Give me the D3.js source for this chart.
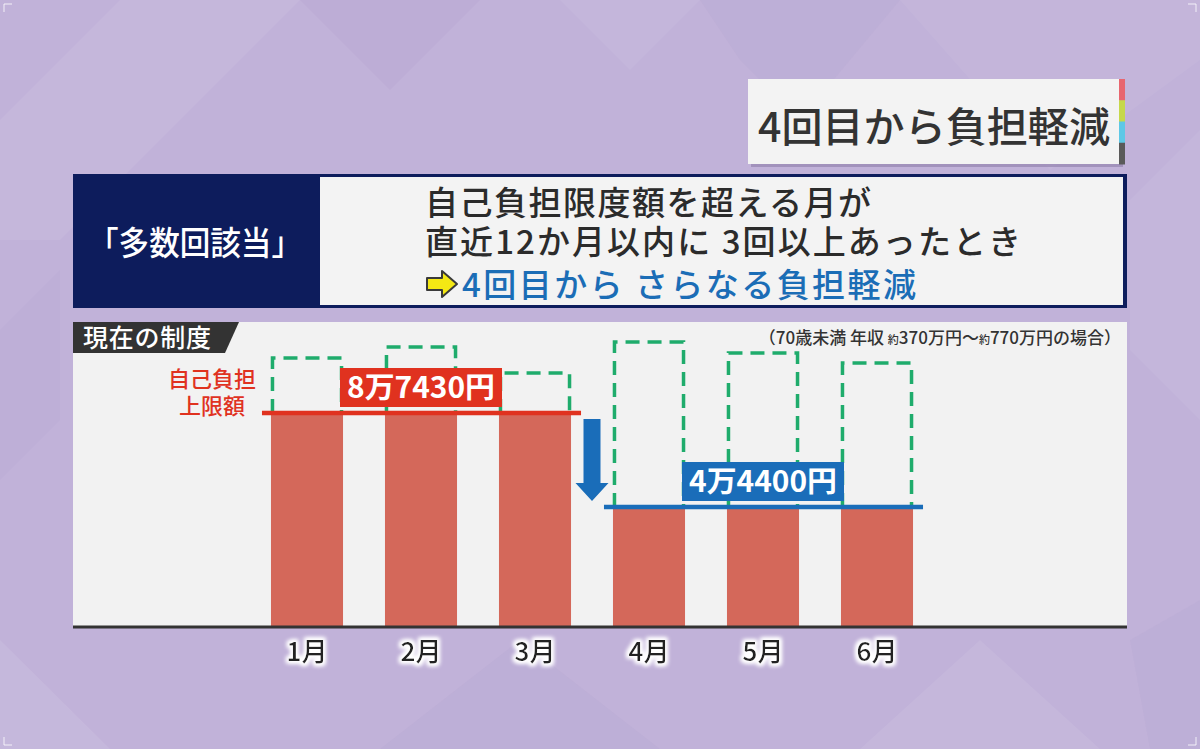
<!DOCTYPE html>
<html><head><meta charset="utf-8">
<script src="https://cdn.jsdelivr.net/npm/d3@7"></script>
<style>
html,body{margin:0;padding:0;background:#c1b2d9;}
svg{display:block;font-family:"Noto Sans CJK JP","Noto Sans",sans-serif;}
</style></head>
<body>
<svg id="c" width="1200" height="749"></svg>
<script>
// ---- data ----
const months = ["1月","2月","3月","4月","5月","6月"];
const capValues = [87430, 87430, 87430, 44400, 44400, 44400];   // 自己負担上限額
const totalValues = [112600, 117600, 105700, 119900, 114900, 110300]; // 医療費総額（破線）
const capGroups = [
  {months: ["1月","2月","3月"], value: 87430, label: "8万7430円", labelAt: "2月"},
  {months: ["4月","5月","6月"], value: 44400, label: "4万4400円", labelAt: "5月"}
];
const titleText = "4回目から負担軽減";
const headerLabel = "「多数回該当」";
const headerLines = ["自己負担限度額を超える月が", "直近12か月以内に 3回以上あったとき", "4回目から さらなる負担軽減"];
const tabText = "現在の制度";
const capLegend = ["自己負担", "上限額"];

const svg = d3.select("#c");
const W = 1200, H = 749;

// ---- background ----
svg.append("rect").attr("width", W).attr("height", H).attr("fill", "#c1b2d9");
const bgShapes = [
  {p: [[0,120],[120,0],[300,0],[60,240],[0,240]], c:"#ffffff", o:0.07},
  {p: [[300,0],[480,0],[390,90]], c:"#9f88c4", o:0.10},
  {p: [[560,0],[700,0],[630,70]], c:"#ffffff", o:0.06},
  {p: [[700,0],[900,0],[800,120],[740,60]], c:"#9f88c4", o:0.08},
  {p: [[900,0],[1200,0],[1200,60],[1050,170]], c:"#ffffff", o:0.05},
  {p: [[0,330],[60,270],[60,420],[0,480]], c:"#9f88c4", o:0.07},
  {p: [[1130,200],[1200,130],[1200,420],[1130,350]], c:"#ffffff", o:0.06},
  {p: [[0,640],[110,749],[0,749]], c:"#ffffff", o:0.08},
  {p: [[380,749],[520,640],[660,749]], c:"#9f88c4", o:0.08},
  {p: [[860,749],[980,640],[1100,749]], c:"#ffffff", o:0.07},
  {p: [[1130,640],[1200,600],[1200,749],[1150,749]], c:"#9f88c4", o:0.08}
];
svg.selectAll("polygon.bg").data(bgShapes).join("polygon").attr("class","bg")
  .attr("points", d => d.p.map(q => q.join(",")).join(" "))
  .attr("fill", d => d.c).attr("opacity", d => d.o);

// corner marks
[[4,4,1,1],[1196,4,-1,1],[4,745,1,-1],[1196,745,-1,-1]].forEach(([x,y,sx,sy]) => {
  svg.append("path").attr("d", `M${x},${y+8*sy} V${y} H${x+8*sx}`)
    .attr("fill","none").attr("stroke","#ffffff").attr("stroke-width",1).attr("opacity",0.8);
});

// ---- defs ----
const defs = svg.append("defs");
const glow = defs.append("filter").attr("id","glow").attr("x","-30%").attr("y","-30%").attr("width","160%").attr("height","160%");
glow.append("feMorphology").attr("in","SourceAlpha").attr("operator","dilate").attr("radius",1.5).attr("result","d");
glow.append("feGaussianBlur").attr("in","d").attr("stdDeviation",2).attr("result","b");
glow.append("feFlood").attr("flood-color","#ffffff").attr("result","f");
glow.append("feComposite").attr("in","f").attr("in2","b").attr("operator","in").attr("result","g");
const gm = glow.append("feMerge");
gm.append("feMergeNode").attr("in","g");
gm.append("feMergeNode").attr("in","g");
gm.append("feMergeNode").attr("in","SourceGraphic");

// ---- title box ----
svg.append("rect").attr("x",751).attr("y",82).attr("width",372).attr("height",85).attr("fill","#7d6b98").attr("opacity",0.45);
svg.append("rect").attr("x",748).attr("y",79).attr("width",372).attr("height",85).attr("fill","#f3f3f3");
const stripColors = ["#e8666f","#c6d84a","#5ec8e6","#5a5a5a"];
const stripY = d3.scaleBand().domain(d3.range(4)).range([79,164]);
svg.selectAll("rect.strip").data(stripColors).join("rect").attr("class","strip")
  .attr("x",1119).attr("width",6).attr("y",(d,i)=>stripY(i)).attr("height",stripY.bandwidth()+0.5).attr("fill",d=>d);
svg.append("text").attr("x",934).attr("y",142).attr("text-anchor","middle")
  .attr("font-size",41).attr("font-weight",500).attr("fill","#333")
  .attr("textLength",352).attr("lengthAdjust","spacingAndGlyphs").text(titleText);

// ---- header box ----
svg.append("rect").attr("x",73).attr("y",174).attr("width",1054).attr("height",134).attr("fill","#0d1c5c");
svg.append("rect").attr("x",320).attr("y",177).attr("width",803).attr("height",128).attr("fill","#f3f3f3");
svg.append("text").attr("x",195).attr("y",255).attr("text-anchor","middle")
  .attr("font-size",33).attr("font-weight",500).attr("fill","#ffffff")
  .attr("textLength",214).attr("lengthAdjust","spacingAndGlyphs").text(headerLabel);
svg.append("text").attr("x",425).attr("y",215).attr("font-size",33).attr("font-weight",500).attr("fill","#2b2b2b")
  .attr("textLength",446).attr("lengthAdjust","spacing").text(headerLines[0]);
svg.append("text").attr("x",425).attr("y",254).attr("font-size",33).attr("font-weight",500).attr("fill","#2b2b2b")
  .attr("textLength",596).attr("lengthAdjust","spacing").text(headerLines[1]);
// yellow arrow icon
svg.append("path").attr("d","M427,278 H442 V271 L457,284 L442,297 V290 H427 Z")
  .attr("fill","#f4e814").attr("stroke","#3a3a3a").attr("stroke-width",2).attr("stroke-linejoin","round");
svg.append("text").attr("x",462).attr("y",297).attr("font-size",33).attr("font-weight",500).attr("fill","#1b6db6")
  .attr("textLength",454).attr("lengthAdjust","spacing").text(headerLines[2]);

// ---- chart panel ----
const panel = {x0:73, x1:1127, y0:322, base:627};
svg.append("rect").attr("x",panel.x0).attr("y",panel.y0).attr("width",panel.x1-panel.x0).attr("height",panel.base-panel.y0).attr("fill","#f2f2f2");
svg.append("polygon").attr("points",`73,322 239,322 225,353 73,353`).attr("fill","#333333");
svg.append("text").attr("x",83).attr("y",347).attr("font-size",25).attr("font-weight",500).attr("fill","#ffffff")
  .attr("textLength",128).attr("lengthAdjust","spacing").text(tabText);

// note
const note = svg.append("text").attr("x",1121).attr("y",344).attr("text-anchor","end")
  .attr("font-size",17).attr("font-weight",500).attr("fill","#333");
note.append("tspan").text("（70歳未満 年収 ");
note.append("tspan").attr("font-size",11).text("約");
note.append("tspan").text("370万円～");
note.append("tspan").attr("font-size",11).text("約");
note.append("tspan").text("770万円の場合）");

// scales
const x = d3.scaleBand().domain(months).range([250, 934]).paddingInner(0.368).paddingOuter(0.184);
const y = d3.scaleLinear().domain([44400, 87430]).range([507, 413]);
const bw = x.bandwidth();

// bars
svg.selectAll("rect.bar").data(months).join("rect").attr("class","bar")
  .attr("x", d => x(d)).attr("width", bw)
  .attr("y", (d,i) => y(capValues[i])).attr("height", (d,i) => panel.base - y(capValues[i]))
  .attr("fill", "#d4685a");

// dashed total boxes
svg.selectAll("path.total").data(months).join("path").attr("class","total")
  .attr("d", (d,i) => `M${x(d)+1.5},${y(capValues[i])} V${y(totalValues[i])} H${x(d)+bw-1.5} V${y(capValues[i])}`)
  .attr("fill","none").attr("stroke","#1fac6c").attr("stroke-width",3.5).attr("stroke-dasharray","14 8");

// cap lines + labels
const capColors = ["#e0321f","#1a6db9"];
capGroups.forEach((g, gi) => {
  const xa = x(g.months[0]) - 9, xb = x(g.months[g.months.length-1]) + bw + 10;
  const ly = y(g.value);
  svg.append("line").attr("x1",xa).attr("x2",xb).attr("y1",ly).attr("y2",ly)
    .attr("stroke",capColors[gi]).attr("stroke-width",4.5);
  const cx = x(g.labelAt) + bw/2;
  svg.append("rect").attr("x",cx-81).attr("y",ly-45).attr("width",162).attr("height",39).attr("fill",capColors[gi]);
  svg.append("text").attr("x",cx).attr("y",ly-15).attr("text-anchor","middle")
    .attr("font-size",29).attr("font-weight",700).attr("fill","#ffffff")
    .attr("textLength",148).attr("lengthAdjust","spacingAndGlyphs").text(g.label);
});

// cap legend (red)
svg.selectAll("text.leg").data(capLegend).join("text").attr("class","leg")
  .attr("x",212).attr("y",(d,i)=>387+i*27).attr("text-anchor","middle")
  .attr("font-size",22).attr("font-weight",500).attr("fill","#e0321f").text(d=>d);

// down arrow
const ax = (x("3月")+bw + x("4月"))/2;
svg.append("path").attr("d",`M${ax-8.5},${y(87430)+6} H${ax+8.5} V${y(44400)-24} H${ax+16.5} L${ax},${y(44400)-6} L${ax-16.5},${y(44400)-24} H${ax-8.5} Z`)
  .attr("fill","#1a6db9");

// axis baseline
svg.append("line").attr("x1",panel.x0).attr("x2",panel.x1).attr("y1",panel.base).attr("y2",panel.base)
  .attr("stroke","#333").attr("stroke-width",3);

// month labels
const axis = d3.axisBottom(x).tickSize(0).tickPadding(0);
const ag = svg.append("g").attr("transform",`translate(0,${panel.base})`).call(axis);
ag.select(".domain").remove();
ag.selectAll("text").attr("font-family",'"Noto Sans CJK JP",sans-serif').attr("font-size",26).attr("font-weight",500)
  .attr("fill","#222").attr("dy",null).attr("y",34).attr("filter","url(#glow)");
</script>
</body></html>
